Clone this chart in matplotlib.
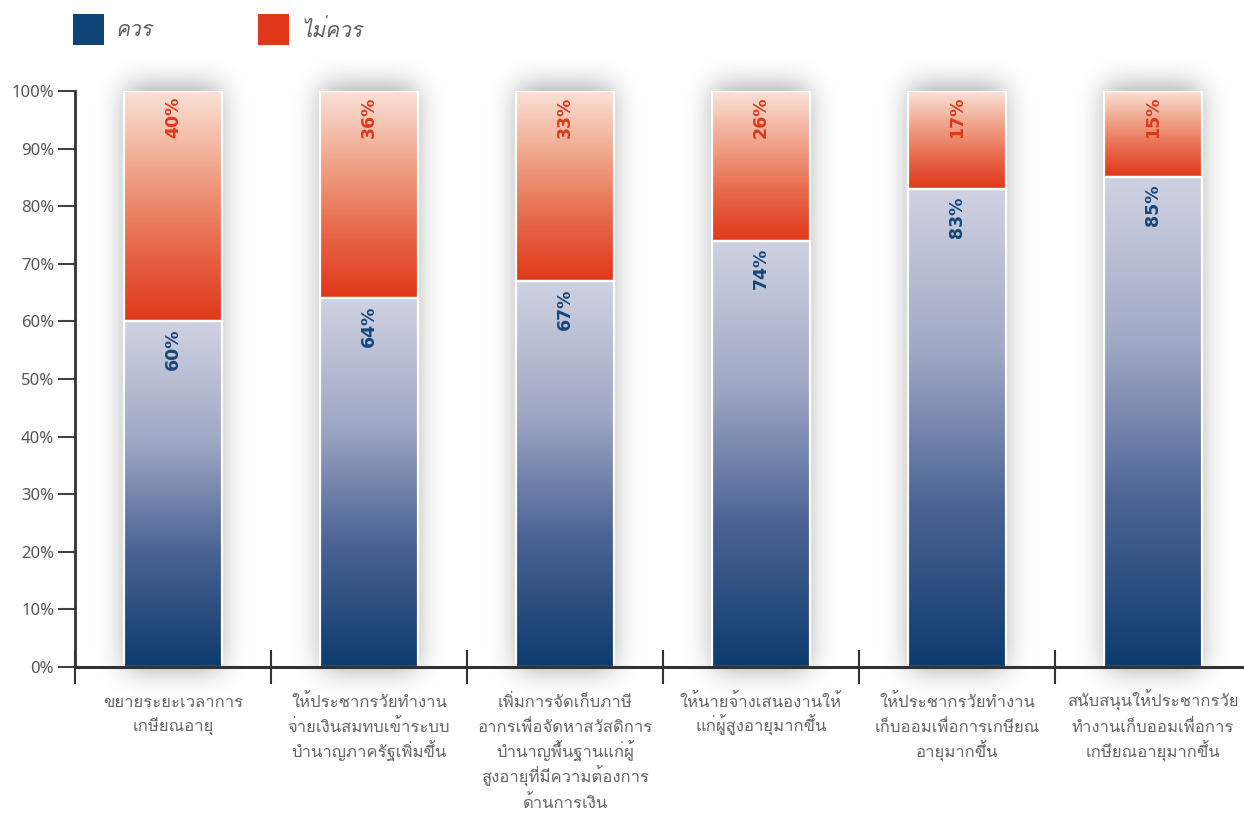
import math
import numpy as np
import matplotlib
matplotlib.use("Agg")
import matplotlib.pyplot as plt
from matplotlib import font_manager
from matplotlib.ft2font import FT2Font
from matplotlib.colors import LinearSegmentedColormap
from matplotlib.patches import Rectangle
from matplotlib.transforms import offset_copy

# data
categories = [
    "ขยายระยะเวลาการ\nเกษียณอายุ",
    "ให้ประชากรวัยทำงาน\nจ่ายเงินสมทบเข้าระบบ\nบำนาญภาครัฐเพิ่มขึ้น",
    "เพิ่มการจัดเก็บภาษี\nอากรเพื่อจัดหาสวัสดิการ\nบำนาญพื้นฐานแก่ผู้\nสูงอายุที่มีความต้องการ\nด้านการเงิน",
    "ให้นายจ้างเสนองานให้\nแก่ผู้สูงอายุมากขึ้น",
    "ให้ประชากรวัยทำงาน\nเก็บออมเพื่อการเกษียณ\nอายุมากขึ้น",
    "สนับสนุนให้ประชากรวัย\nทำงานเก็บออมเพื่อการ\nเกษียณอายุมากขึ้น",
]
should = [60, 64, 67, 74, 83, 85]
should_not = [40, 36, 33, 26, 17, 15]
series_names = ["ควร", "ไม่ควร"]
yticks = [0, 10, 20, 30, 40, 50, 60, 70, 80, 90, 100]


def find_thai_font():
    found = []
    for f in font_manager.fontManager.ttflist:
        try:
            if 0x0E01 in FT2Font(f.fname).get_charmap():
                found.append(f)
        except Exception:
            pass
    regular = [f for f in found if f.weight in (400, "normal", "regular") and f.style == "normal"]
    pick = regular or found
    return pick[0].name if pick else "DejaVu Sans"


thai = find_thai_font()
plt.rcParams["font.family"] = [thai, "DejaVu Sans"]

RED = "#e0371a"
blue_cmap = LinearSegmentedColormap.from_list("b", ["#0d3b6d", "#4a6394", "#a2a9c6", "#cfd2e1"])
red_cmap = LinearSegmentedColormap.from_list("r", ["#e0371a", "#e86a4c", "#f0a68c", "#fbe2d8"])
erf = np.vectorize(math.erf)

fig = plt.figure(figsize=(12.44, 8.16), dpi=100)
ax = fig.add_axes([75 / 1244, (816 - 667) / 816, 1176 / 1244, 576 / 816])

x = np.arange(len(categories))
w = 0.5
px_x = 1 / 196
px_y = 100 / 576
grad = np.linspace(0, 1, 256).reshape(-1, 1)

# blurred shadow profile (pixel units)
sig = 14.0
pad = 55
bar_px = w / px_x


def box_blur(n_in, lo, hi):
    t = np.arange(n_in) + 0.5
    return 0.5 * (erf((t - lo) / (sig * math.sqrt(2))) - erf((t - hi) / (sig * math.sqrt(2))))


for i in range(len(categories)):
    x0 = x[i] - w / 2
    top = should[i] + should_not[i]
    # soft shadow
    h_px = top / px_y
    nx = int(bar_px + 2 * pad)
    ny = int(h_px + 2 * pad)
    sx = box_blur(nx, pad + 2, pad + bar_px - 2)
    sy = box_blur(ny, pad - 2, pad + h_px + 5)
    alpha = 0.36 * np.outer(sy, sx)
    rgba = np.zeros((ny, nx, 4))
    rgba[..., 3] = alpha
    ax.imshow(rgba, origin="lower", aspect="auto", interpolation="bilinear",
              extent=[x0 - pad * px_x, x0 - pad * px_x + nx * px_x,
                      -pad * px_y, -pad * px_y + ny * px_y],
              zorder=1, clip_on=False)
    ax.imshow(grad, cmap=blue_cmap, origin="lower", aspect="auto",
              extent=[x0, x0 + w, 0, should[i]], zorder=2)
    ax.imshow(grad, cmap=red_cmap, origin="lower", aspect="auto",
              extent=[x0, x0 + w, should[i], top], zorder=2)
    ax.add_patch(Rectangle((x0, 0), w, should[i], facecolor="none", edgecolor="white", lw=1.6, zorder=3))
    ax.add_patch(Rectangle((x0, should[i]), w, should_not[i], facecolor="none", edgecolor="white", lw=1.6, zorder=3))
    ax.text(x[i], should[i] - 1.3, f"{should[i]}%", rotation=90, ha="center", va="top",
            fontsize=12.5, fontweight="bold", color="#17457a", family="DejaVu Sans", zorder=4)
    ax.text(x[i], top - 1.0, f"{should_not[i]}%", rotation=90, ha="center", va="top",
            fontsize=12.5, fontweight="bold", color=RED, family="DejaVu Sans", zorder=4)

ax.set_xlim(-0.5, 5.5)
ax.set_ylim(0, 100)

# axes styling
for s in ["top", "right"]:
    ax.spines[s].set_visible(False)
ax.spines["left"].set_color("#333333")
ax.spines["left"].set_linewidth(2)
ax.spines["bottom"].set_color("#333333")
ax.spines["bottom"].set_linewidth(2.2)
ax.spines["bottom"].set_zorder(5)

ax.set_yticks(yticks)
ax.set_yticklabels([f"{v}%" for v in yticks], fontsize=12, color="#555555", family="Noto Sans")
ax.tick_params(axis="y", length=12, width=1.5, color="#444444", pad=3)

# category labels, one line at a time so the spacing stays even
ax.set_xticks(x)
ax.set_xticklabels([])
ax.tick_params(axis="x", which="major", length=0)
ax.set_xticks(np.arange(-0.5, 5.0, 1.0), minor=True)
ax.tick_params(axis="x", which="minor", direction="inout", length=24, width=1.5, color="#333333")
tr = ax.get_xaxis_transform()
for i, label in enumerate(categories):
    for j, line in enumerate(label.split("\n")):
        ax.text(x[i], 0, line, transform=offset_copy(tr, fig=fig, y=-(40 + 25.3 * j), units="dots"),
                ha="center", va="baseline", fontsize=12, color="#666666", clip_on=False)

# legend
fig.patches.append(Rectangle((73 / 1244, 1 - 45 / 816), 31 / 1244, 31 / 816,
                             transform=fig.transFigure, facecolor="#0f4476", edgecolor="none"))
fig.patches.append(Rectangle((258 / 1244, 1 - 45 / 816), 31 / 1244, 31 / 816,
                             transform=fig.transFigure, facecolor=RED, edgecolor="none"))
fig.text(116 / 1244, 1 - 30 / 816, series_names[0], fontsize=15, style="italic",
         color="#606060", va="center", ha="left")
fig.text(301 / 1244, 1 - 30 / 816, series_names[1], fontsize=15, style="italic",
         color="#606060", va="center", ha="left")

fig.savefig("out.png", dpi=100)
